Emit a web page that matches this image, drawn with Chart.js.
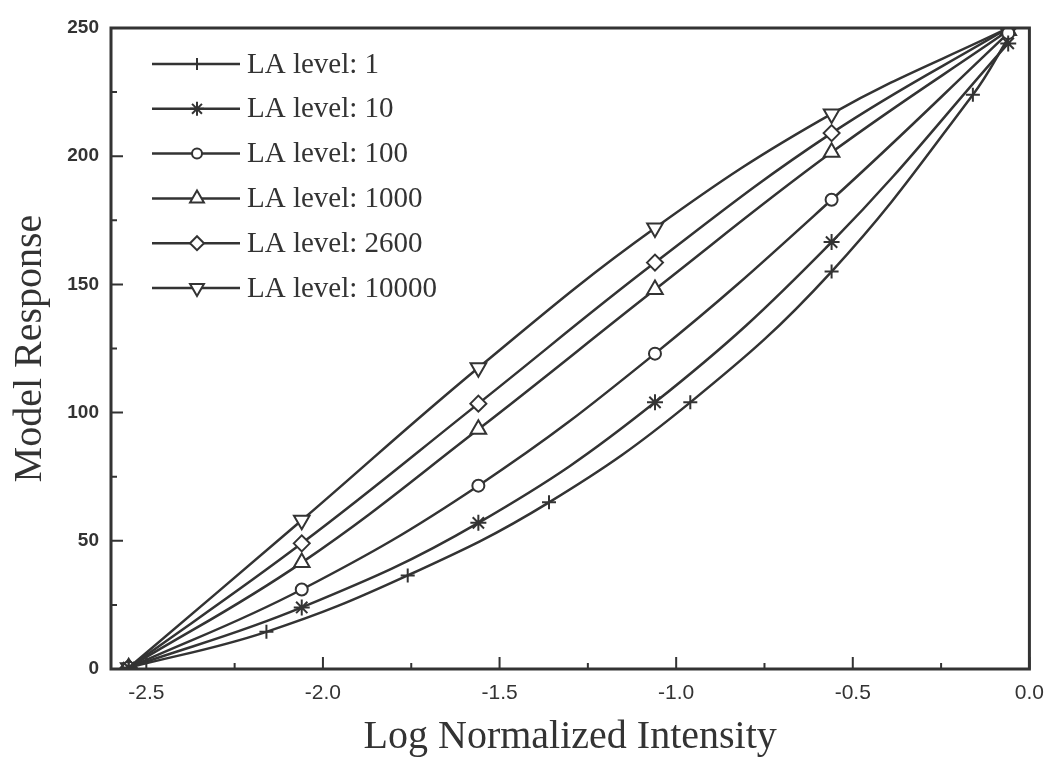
<!DOCTYPE html>
<html>
<head>
<meta charset="utf-8">
<script src="https://cdn.jsdelivr.net/npm/chart.js@4"></script>
<style>
  html, body { margin: 0; padding: 0; background: #fff; }
  #wrap { width: 1056px; height: 764px; }
</style>
</head>
<body>
<div id="wrap"><canvas id="chart" width="1056" height="764"></canvas></div>
<script>
// values
const seriesNames = ['LA level: 1', 'LA level: 10', 'LA level: 100', 'LA level: 1000', 'LA level: 2600', 'LA level: 10000'];
const xMain = [-2.55, -2.06, -1.56, -1.06, -0.56, -0.06];
const xLevel1 = [-2.55, -2.16, -1.76, -1.36, -0.96, -0.56, -0.16, -0.06];
const yLevel1 = [0.5, 14.5, 36.5, 65, 104, 155, 224, 246];
const yLevel10 = [0.5, 24, 57, 104, 166.5, 244];
const yLevel100 = [0.5, 31, 71.5, 123, 183, 248];
const yLevel1000 = [0.5, 41.5, 93.5, 148, 201.5, 249];
const yLevel2600 = [0.5, 49, 103.5, 158.5, 209, 250];
const yLevel10000 = [0.5, 58, 117.5, 172, 216.5, 250];
const xTicks = [-2.5, -2.0, -1.5, -1.0, -0.5, 0.0];
const yTicks = [0, 50, 100, 150, 200, 250];

const ink = '#333333';
const markers = [
  { pointStyle: 'cross', radius: 7, rotation: 0 },
  { pointStyle: 'star', radius: 8, rotation: 0 },
  { pointStyle: 'circle', radius: 6, rotation: 0 },
  { pointStyle: 'triangle', radius: 9, rotation: 0 },
  { pointStyle: 'rectRot', radius: 8, rotation: 0 },
  { pointStyle: 'triangle', radius: 9, rotation: 180 }
];

function pts(xs, ys) {
  return ys.map((y, i) => ({ x: xs[i], y: y }));
}

const seriesData = [
  pts(xLevel1, yLevel1),
  pts(xMain, yLevel10),
  pts(xMain, yLevel100),
  pts(xMain, yLevel1000),
  pts(xMain, yLevel2600),
  pts(xMain, yLevel10000)
];

const datasets = seriesData.map((d, i) => ({
  label: seriesNames[i],
  data: d,
  borderColor: ink,
  borderWidth: 2.5,
  backgroundColor: '#ffffff',
  pointBackgroundColor: '#ffffff',
  pointBorderColor: ink,
  pointBorderWidth: 2,
  pointStyle: markers[i].pointStyle,
  pointRotation: markers[i].rotation,
  // the first series' last point is only the end of the curve
  pointRadius: ctx => (i === 0 && ctx.dataIndex === d.length - 1) ? 0 : markers[i].radius,
  tension: 0.4,
  fill: false
}));

// inward ticks and the box round the plot
const frame = {
  id: 'frame',
  afterDatasetsDraw(chart) {
    const { ctx, chartArea: a } = chart;
    const xs = chart.scales.x, ys = chart.scales.y;
    ctx.save();
    ctx.strokeStyle = ink;
    ctx.lineWidth = 2;
    ctx.beginPath();
    xTicks.forEach(v => {
      const px = xs.getPixelForValue(v);
      ctx.moveTo(px, a.bottom); ctx.lineTo(px, a.bottom - 12);
      const m = xs.getPixelForValue(v + 0.25);
      if (v + 0.25 < 0) { ctx.moveTo(m, a.bottom); ctx.lineTo(m, a.bottom - 6); }
    });
    yTicks.forEach(v => {
      const py = ys.getPixelForValue(v);
      ctx.moveTo(a.left, py); ctx.lineTo(a.left + 12, py);
      if (v + 25 < 250) {
        const m = ys.getPixelForValue(v + 25);
        ctx.moveTo(a.left, m); ctx.lineTo(a.left + 6, m);
      }
    });
    ctx.stroke();
    ctx.lineWidth = 3;
    ctx.strokeRect(a.left, a.top, a.right - a.left, a.bottom - a.top);
    ctx.restore();
  }
};

// legend: line sample with the marker in the middle
const sampleLegend = {
  id: 'sampleLegend',
  afterDraw(chart) {
    const { ctx } = chart;
    ctx.save();
    ctx.font = '29px "Liberation Serif", "Times New Roman", serif';
    ctx.textBaseline = 'middle';
    seriesNames.forEach((name, i) => {
      const y = 64 + i * 44.8;
      ctx.strokeStyle = ink;
      ctx.lineWidth = 2.5;
      ctx.beginPath();
      ctx.moveTo(152, y); ctx.lineTo(240, y);
      ctx.stroke();
      ctx.fillStyle = '#ffffff';
      ctx.lineWidth = 2;
      Chart.helpers.drawPoint(ctx, {
        pointStyle: markers[i].pointStyle,
        rotation: markers[i].rotation,
        radius: markers[i].radius - 1,
        borderWidth: 2
      }, 197, y);
      ctx.fillStyle = ink;
      ctx.fillText(name, 247, y + 1);
    });
    ctx.restore();
  }
};

new Chart(document.getElementById('chart'), {
  type: 'line',
  data: { datasets: datasets },
  plugins: [frame, sampleLegend],
  options: {
    responsive: false,
    animation: false,
    layout: { padding: { left: 0, right: 23, top: 28, bottom: 0 } },
    plugins: { legend: { display: false }, tooltip: { enabled: false } },
    scales: {
      x: {
        type: 'linear',
        min: -2.6,
        max: 0,
        afterBuildTicks: s => { s.ticks = xTicks.map(v => ({ value: v })); },
        afterFit: s => { s.height = 95; },
        grid: { display: false, drawTicks: false },
        border: { display: false },
        ticks: {
          padding: 12,
          color: ink,
          font: { family: '"Liberation Sans Narrow", "Liberation Sans", Arial, sans-serif', size: 21 },
          callback: v => v.toFixed(1)
        },
        title: {
          display: true,
          text: 'Log Normalized Intensity',
          color: ink,
          padding: { top: 0, bottom: 3 },
          font: { family: '"Liberation Serif", "Times New Roman", serif', size: 40 }
        }
      },
      y: {
        min: 0,
        max: 250,
        afterBuildTicks: s => { s.ticks = yTicks.map(v => ({ value: v })); },
        afterFit: s => { s.width = 111; },
        grid: { display: false, drawTicks: false },
        border: { display: false },
        ticks: {
          padding: 12,
          color: ink,
          font: { family: '"Liberation Sans", Arial, sans-serif', size: 19, weight: 'bold' }
        },
        title: {
          display: true,
          text: 'Model Response',
          color: ink,
          padding: { top: 6, bottom: 0 },
          font: { family: '"Liberation Serif", "Times New Roman", serif', size: 40 }
        }
      }
    }
  }
});
</script>
</body>
</html>
